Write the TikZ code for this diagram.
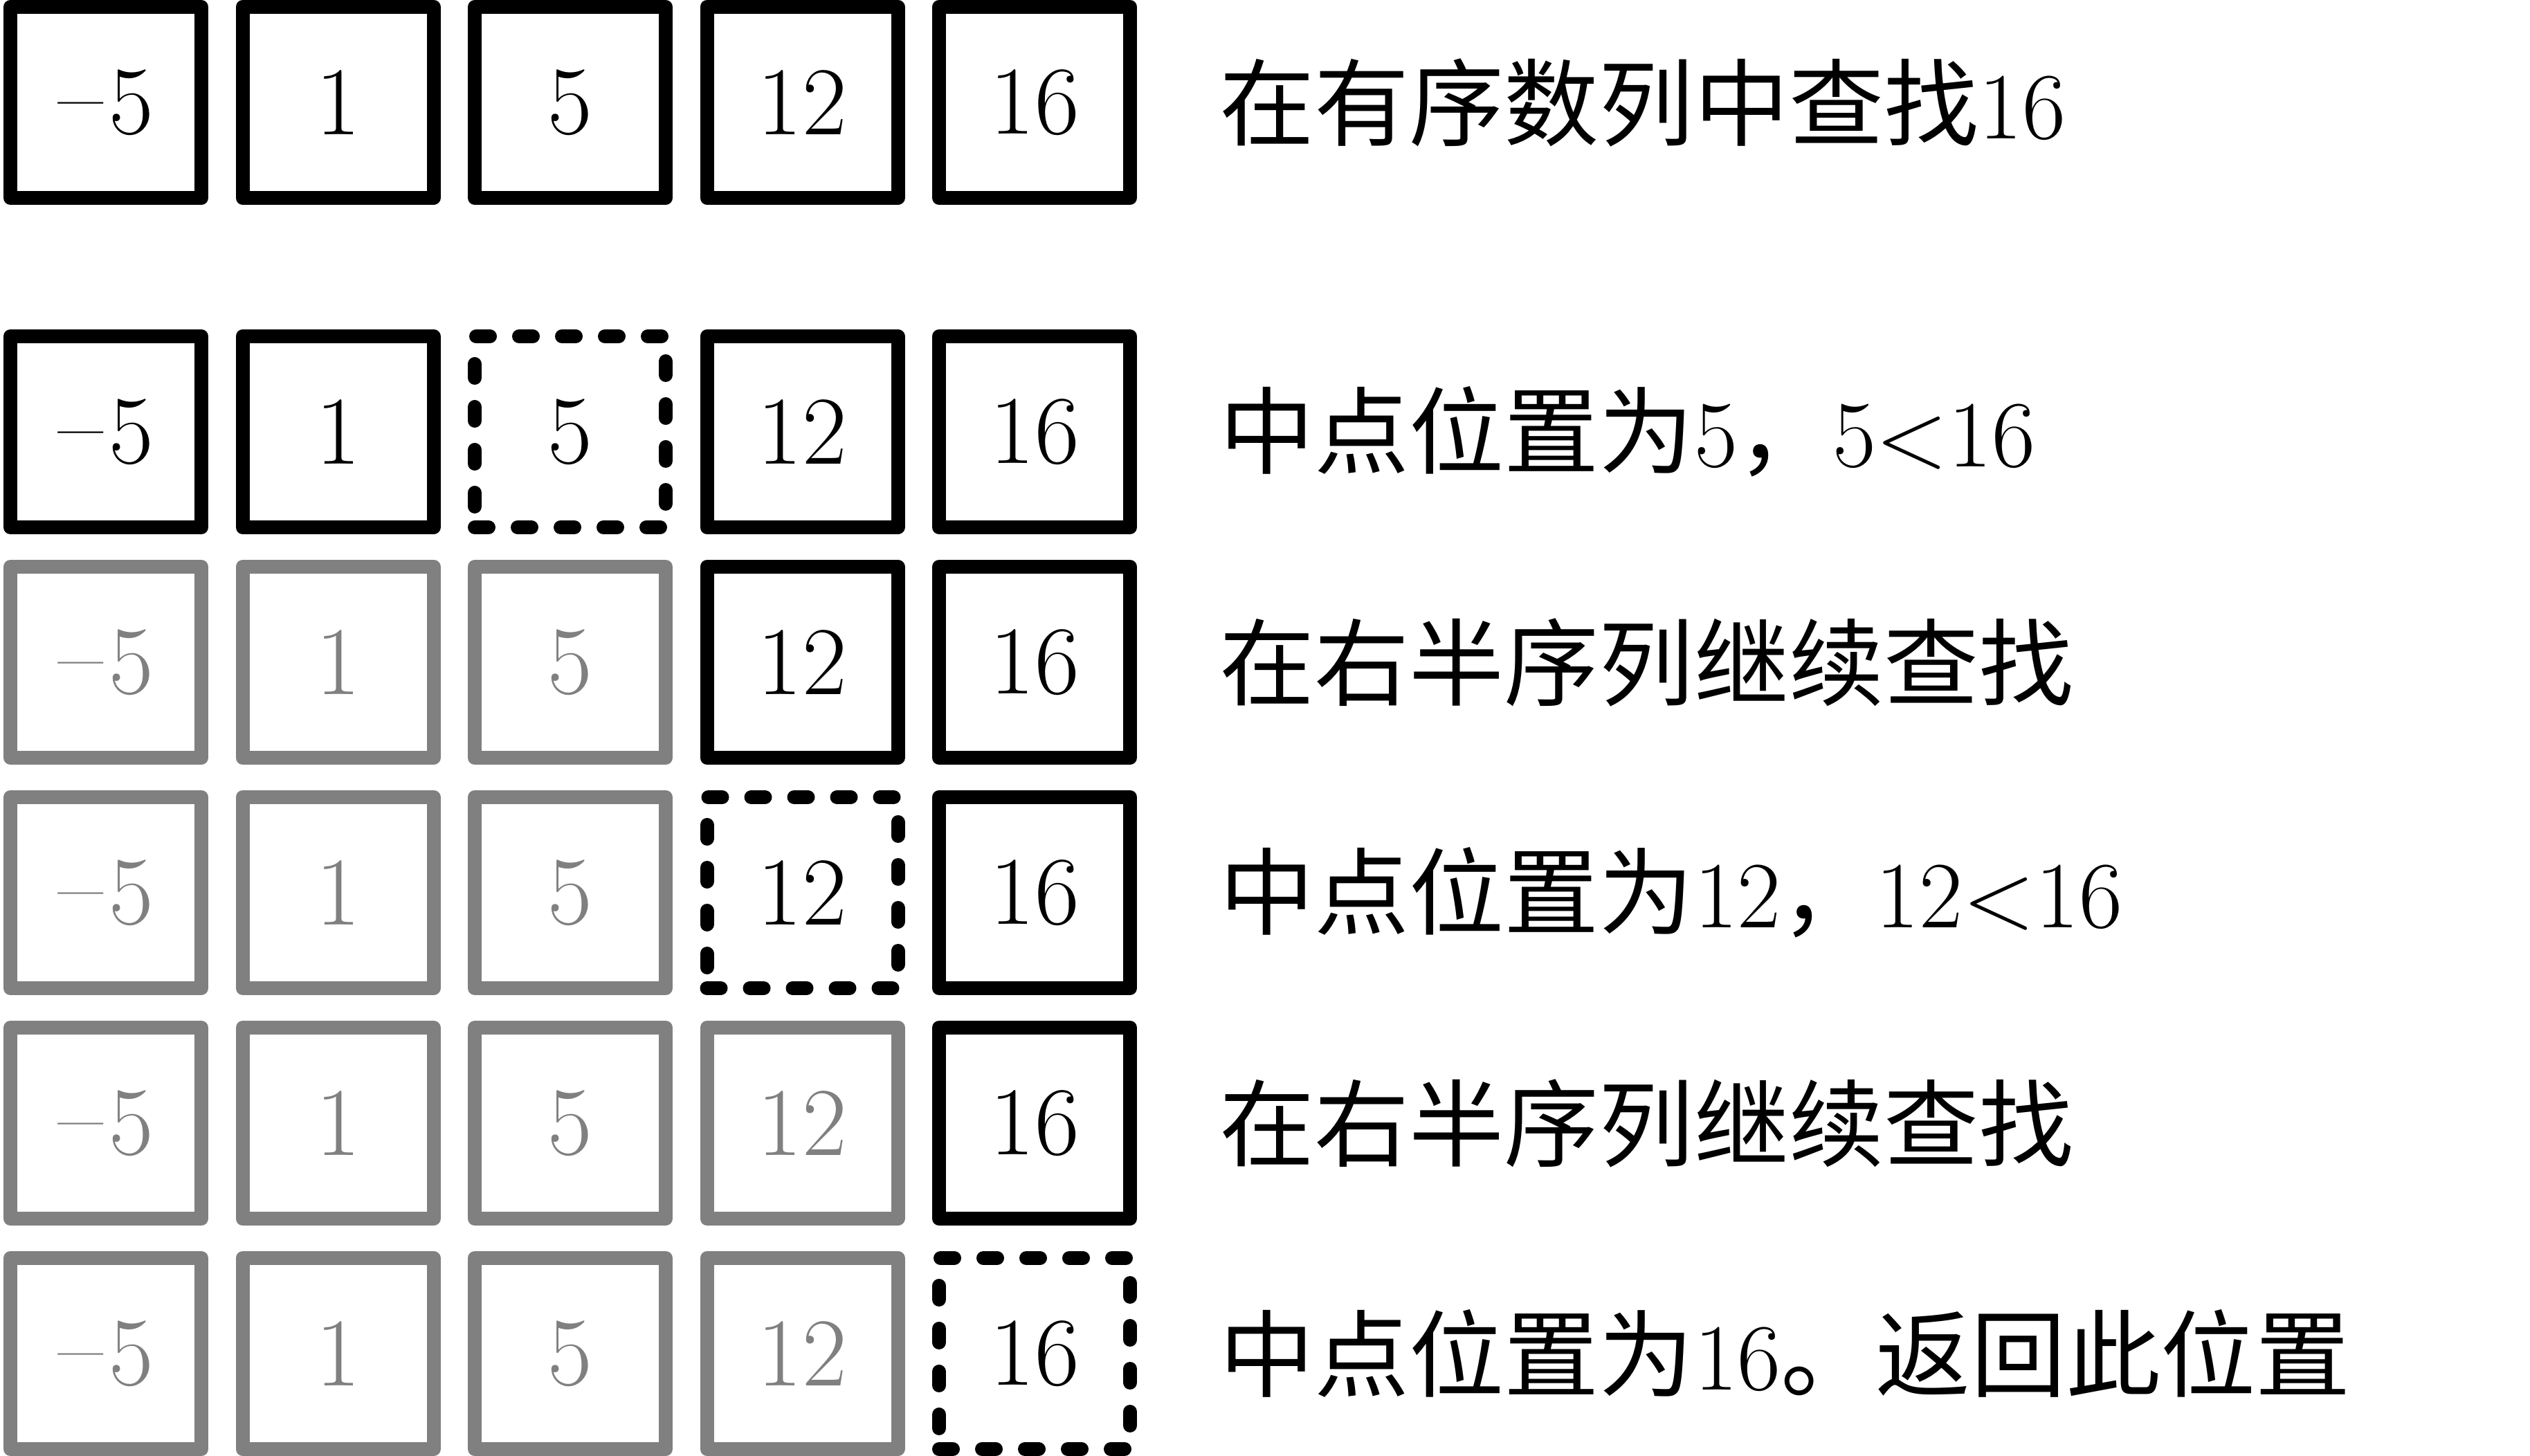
\documentclass[tikz,border=0pt]{standalone}
\usepackage{fontspec}
\newfontfamily\cjk{Noto Sans CJK SC}
\usetikzlibrary{positioning}

\begin{document}
\begin{tikzpicture}[
  every node/.style={font=\fontsize{40}{48}\selectfont},
  cell/.style={draw, line width=.2cm, line join=round, minimum size=2.76cm, inner sep=0pt},
  dimcell/.style={cell, draw=gray, text=gray},
  midcell/.style={cell, dash pattern=on .2cm off .42cm, line cap=round},
  note/.style={right=1.19cm of #1, inner sep=0pt, font=\fontsize{39}{47}\selectfont}
]
\useasboundingbox (0,0) rectangle (36.56,21.04);
\foreach \y/\d/\m/\txt [count=\r] in {
  19.56/0/0/{{\cjk 在有序数列中查找}16},
  14.80/0/3/{{\cjk 中点位置为}5{\cjk ，}5<16},
  11.47/3/0/{{\cjk 在右半序列继续查找}},
  8.14/3/4/{{\cjk 中点位置为}12{\cjk ，}12<16},
  4.81/4/0/{{\cjk 在右半序列继续查找}},
  1.48/4/5/{{\cjk 中点位置为}16{\cjk 。返回此位置}}}
{
  \foreach \c/\v in {1/\raisebox{.05em}{–}\kern.06em5,2/1,3/5,4/12,5/16} {
    \ifnum\c=\m \def\kind{midcell}\else\ifnum\c>\d \def\kind{cell}\else\def\kind{dimcell}\fi\fi
    \node[\kind] (r\r c\c) at ({1.53+3.355*(\c-1)},\y) {\v};
  }
  \node[note=r\r c5] (t\r) {\txt};
}
\end{tikzpicture}
\end{document}
